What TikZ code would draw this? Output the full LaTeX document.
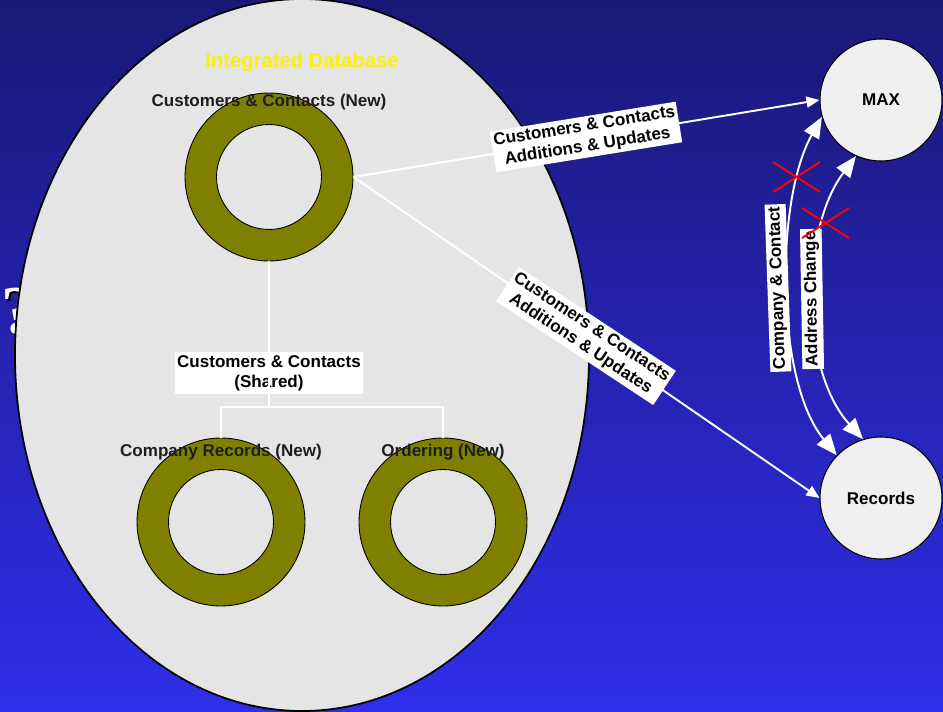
\documentclass[tikz,border=0pt]{standalone}
\usepackage{fontspec}
\setmainfont{Liberation Sans}
\newfontfamily\qfont{Liberation Serif}
\usetikzlibrary{arrows.meta}

\definecolor{bgtop}{RGB}{26,24,118}
\definecolor{bgbot}{RGB}{47,46,234}
\definecolor{dbgray}{RGB}{229,229,229}
\definecolor{sysgray}{RGB}{239,239,239}
\definecolor{ringolive}{RGB}{128,128,0}
\definecolor{labeltext}{RGB}{30,30,30}

\tikzset{
  lbl/.style={font=\fontsize{9.7}{11.4}\selectfont\bfseries},
  ringout/.style={circle, draw=black, line width=0.5pt, fill=ringolive,
    minimum size=3.36cm, inner sep=0pt},
  ringin/.style={circle, draw=black, line width=0.5pt, fill=dbgray,
    minimum size=2.1cm, inner sep=0pt},
  ringname/.style={lbl, text=labeltext},
  system/.style={circle, draw=black, line width=0.6pt, fill=sysgray,
    minimum size=2.44cm, inner sep=0pt, lbl, text=black},
  tag/.style={lbl, fill=white, text=black, align=center,
    inner xsep=1.3pt, inner ysep=1.6pt},
  flow/.style={white, line width=1.1pt},
  flowarrow/.style={flow, -{Triangle[length=0.26cm,width=0.22cm]}},
  syncarrow/.style={flow,
    {Triangle[length=0.42cm,width=0.34cm]}-{Triangle[length=0.42cm,width=0.34cm]}},
  blocked/.style={red, line width=1.1pt}
}

\begin{document}
\begin{tikzpicture}[x=0.02cm, y=-0.02cm]
  % backdrop
  \useasboundingbox (0,0) rectangle (943,712);
  \shade[top color=bgtop, bottom color=bgbot] (0,0) rectangle (943,712);

  % glyph peeking out behind the database
  \node[anchor=base, text=black, font=\qfont\bfseries\fontsize{39}{39}\selectfont] at (21,336) {?};
  \node[anchor=base, text=white, font=\qfont\bfseries\fontsize{39}{39}\selectfont] at (19,334) {?};

  % integrated database
  \draw[fill=dbgray, line width=1pt] (302,355) ellipse [x radius=287, y radius=356];
  \node[lbl, text=yellow, font=\fontsize{11.5}{13}\selectfont\bfseries] (dbtitle) at (302,62) {Integrated Database};

  % rings
  \node[ringout] (r1) at (269,177) {};
  \node[ringin] (r1in) at (269,177) {};
  \node[ringout] (r2) at (221,522) {};
  \node[ringin] (r2in) at (221,522) {};
  \node[ringout] (r3) at (443,522) {};
  \node[ringin] (r3in) at (443,522) {};

  % shared link between rings
  \node[tag] (shared) at (269,373) {Customers \& Contacts\\(Shared)};
  \coordinate (split) at (269,407);
  \draw[flow] (r1.south) -- (split);
  \draw[flow] (split) -| (r2.north);
  \draw[flow] (split) -| (r3.north);

  \node[ringname] (n1) at (269,102) {Customers \& Contacts (New)};
  \node[ringname] (n2) at (221,452) {Company Records (New)};
  \node[ringname] (n3) at (443,452) {Ordering (New)};

  % external systems
  \node[system] (max) at (881,100) {MAX};
  \node[system] (records) at (881,498) {Records};

  % feeds out of the database
  \draw[flowarrow] (r1.east) -- (max.west);
  \draw[flowarrow] (r1.east) -- (records.west);
  \node[tag, rotate=9.2] (feedmax) at (586,137) {Customers \& Contacts\\Additions \& Updates};
  \node[tag, rotate=-33.5] (feedrec) at (586,336) {Customers \& Contacts\\Additions \& Updates};

  % old direct links between the systems
  \draw[syncarrow] (max.196) .. controls (775,200) and (775,380) .. (records.136);
  \draw[syncarrow] (max.246) .. controls (800,230) and (800,370) .. (records.107);
  \node[tag, rotate=92] (cc) at (778,288) {Company \& Contact};
  \node[tag, rotate=91] (ac) at (812,299) {Address Change};

  % crossed out
  \draw[blocked] (773,162) -- (820,192) (773,192) -- (820,162);
  \draw[blocked] (802,208) -- (849,238) (802,238) -- (849,208);
\end{tikzpicture}
\end{document}
